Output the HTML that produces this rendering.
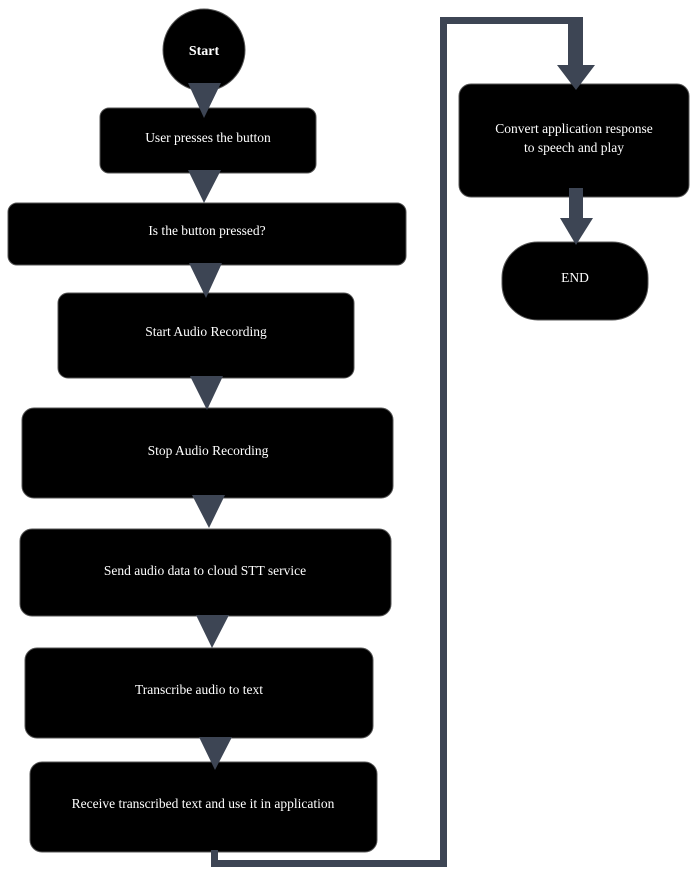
<!DOCTYPE html><html><head><style>body{margin:0;background:#fff}svg{display:block}text{font-family:"Liberation Serif",serif;font-size:13.5px;fill:#fff;text-anchor:middle}</style></head><body>
<svg width="697" height="878" viewBox="0 0 697 878">
<g fill="#000" stroke="#555" stroke-width="1">
<circle cx="204" cy="50" r="41"/>
<rect x="100" y="108" width="216" height="65" rx="9"/>
<rect x="8" y="203" width="398" height="62" rx="9"/>
<rect x="58" y="293" width="296" height="85" rx="10"/>
<rect x="22" y="408" width="371" height="90" rx="12"/>
<rect x="20" y="529" width="371" height="87" rx="12"/>
<rect x="25" y="648" width="348" height="90" rx="12"/>
<rect x="30" y="762" width="347" height="90" rx="12"/>
<rect x="459" y="84" width="230" height="113" rx="12"/>
<rect x="502" y="242" width="146" height="78" rx="36"/>
</g>
<g fill="#3d4554">
<polygon points="188,83 221,83 204,118"/>
<polygon points="188,170 221,170 204,203"/>
<polygon points="189,263 222,263 206,298"/>
<polygon points="190,376 223,376 207,410"/>
<polygon points="192,495 225,495 209,528"/>
<polygon points="196,615 229,615 212,648"/>
<polygon points="199,737 232,737 215,770"/>
<polygon points="211,850 218,850 218,860 440,860 440,17 583,17 583,65 595,65 576,90 557,65 568,65 568,24 447,24 447,867 211,867"/>
<rect x="569" y="188" width="14" height="32"/>
<polygon points="560,218 593,218 576,245"/>
</g>
<text x="204" y="55" style="font-weight:bold;font-size:14px">Start</text>
<text x="208" y="142">User presses the button</text>
<text x="207" y="235">Is the button pressed?</text>
<text x="206" y="336">Start Audio Recording</text>
<text x="208" y="455">Stop Audio Recording</text>
<text x="205" y="575">Send audio data to cloud STT service</text>
<text x="199" y="694">Transcribe audio to text</text>
<text x="203" y="808">Receive transcribed text and use it in application</text>
<text x="574" y="133">Convert application response</text>
<text x="574" y="152">to speech and play</text>
<text x="575" y="282">END</text>
</svg></body></html>
